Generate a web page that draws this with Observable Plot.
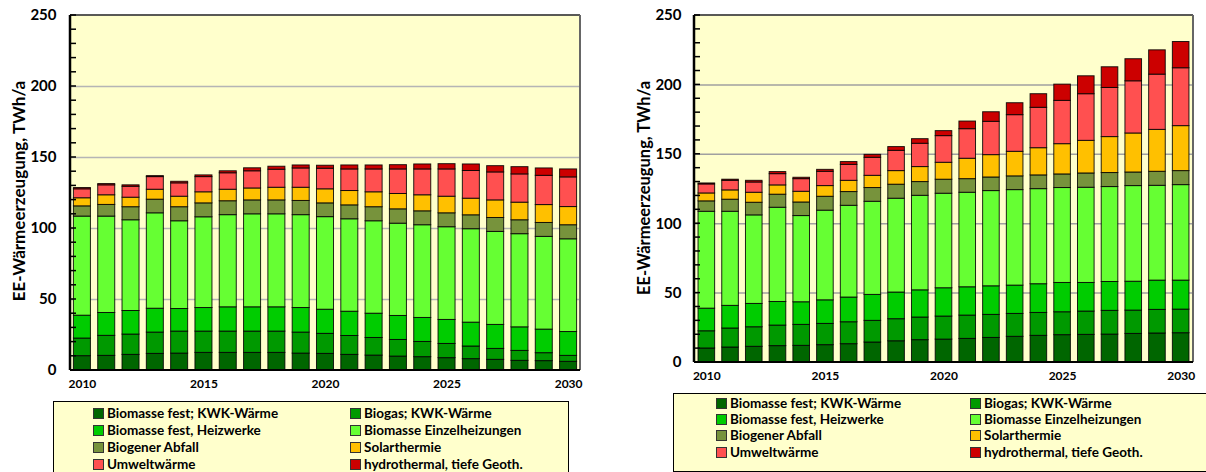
<!DOCTYPE html>
<html><head><meta charset="utf-8">
<script src="https://cdn.jsdelivr.net/npm/d3@7"></script>
<script src="https://cdn.jsdelivr.net/npm/@observablehq/plot@0.6"></script>
<style>
body{margin:0;width:1206px;height:472px;overflow:hidden;background:#fff;font-family:Lato,"Open Sans",sans-serif;}
#wrap{position:relative;width:1206px;height:472px;overflow:hidden;}
.chart{position:absolute;top:0;}
.ylab{position:absolute;font-weight:bold;font-size:17px;white-space:nowrap;transform:translate(-50%,-50%) rotate(-90deg);}
.legend{position:absolute;background:#ffffcc;border:1.5px solid #000;box-sizing:border-box;}
.item{position:absolute;font-weight:bold;font-size:13.5px;line-height:16px;white-space:nowrap;color:#000}
.sw{display:inline-block;width:9px;height:9px;border:1px solid #333;margin-right:3px;vertical-align:-1px}
</style></head><body><div id="wrap"></div>
<script>
const years = [2010,2011,2012,2013,2014,2015,2016,2017,2018,2019,2020,2021,2022,2023,2024,2025,2026,2027,2028,2029,2030];
const yearLabels = [2010,2015,2020,2025,2030];
const yTicks = [0,50,100,150,200,250];
const yMinorTicks = [0,10,20,30,40,50,60,70,80,90,100,110,120,130,140,150,160,170,180,190,200,210,220,230,240,250];
const categories = ["Biomasse fest; KWK-Wärme","Biogas; KWK-Wärme","Biomasse fest, Heizwerke","Biomasse Einzelheizungen","Biogener Abfall","Solarthermie","Umweltwärme","hydrothermal, tiefe Geoth."];
const colors = ["#006600","#009900","#00cc00","#66ff33","#77933c","#ffc000","#ff5050","#cc0000"];
const yTitle = "EE-Wärmeerzeugung, TWh/a";

// Left chart series (TWh/a)
const leftBioKWK   = [10.1,10.3,11.0,11.7,11.9,12.4,12.4,12.4,12.4,11.9,11.7,11.0,10.5,9.8,9.4,8.7,8.0,7.5,6.8,6.6,6.1];
const leftBiogas   = [12.4,14.1,14.3,15.0,15.5,15.0,15.0,15.0,15.0,14.8,14.1,13.3,12.4,11.7,10.7,10.0,8.9,7.7,7.0,5.6,4.2];
const leftHeizw    = [16.1,16.1,16.6,16.8,15.9,16.6,17.1,17.1,17.1,17.3,17.0,17.1,17.1,16.9,16.9,16.9,16.8,16.9,16.6,16.6,16.8];
const leftEinzel   = [69.8,67.9,63.9,67.2,61.8,63.9,64.9,65.5,65.5,65.4,65.2,65.1,65.1,65.0,65.3,65.3,65.8,65.5,65.6,65.3,65.3];
const leftAbfall   = [7.2,8.2,9.2,9.6,9.9,9.8,9.8,9.8,9.8,10.0,9.7,9.8,9.9,10.1,9.8,9.8,9.8,9.8,9.8,9.8,9.9];
const leftSolar    = [5.7,6.8,6.7,7.0,7.4,7.8,8.1,8.4,8.9,9.3,9.9,10.1,10.5,10.8,11.3,11.7,11.7,12.4,12.4,12.6,12.8];
const leftUmwelt   = [6.3,7.0,7.7,8.9,9.4,10.7,11.6,12.1,12.7,13.6,14.5,15.2,16.1,17.3,18.2,19.2,19.5,19.7,19.9,20.6,20.9];
const leftHydro    = [0.9,0.9,1.0,0.7,1.1,1.2,1.4,2.1,2.1,2.1,2.1,2.8,2.8,3.0,3.5,3.7,4.6,4.4,5.1,5.2,5.6];

// Right chart series (TWh/a)
const rightBioKWK  = [10.1,10.8,11.3,11.8,12.0,12.5,13.2,14.4,15.3,16.1,16.5,17.0,17.7,18.5,19.2,19.7,19.9,20.1,20.6,20.9,21.1];
const rightBiogas  = [12.4,13.7,14.1,14.8,15.1,15.3,15.8,15.6,15.9,16.3,16.6,16.8,16.6,16.5,16.5,16.5,16.8,17.1,16.8,17.0,17.0];
const rightHeizw   = [16.3,16.3,16.8,17.0,16.3,17.0,17.8,18.7,19.2,19.6,20.4,20.4,20.6,20.4,20.7,21.1,20.6,20.8,20.8,21.1,20.9];
const rightEinzel  = [69.8,67.8,63.8,67.9,62.1,64.6,66.1,67.1,67.6,68.1,68.1,68.1,68.6,68.8,68.5,68.4,68.6,68.4,68.9,68.3,68.8];
const rightAbfall  = [7.5,8.7,9.1,9.4,9.8,10.0,9.9,9.9,10.1,9.9,10.1,9.8,9.8,9.9,9.9,9.8,10.3,10.1,9.8,10.1,10.1];
const rightSolar   = [5.7,6.7,7.2,6.7,7.7,7.7,8.1,8.8,9.8,10.8,12.2,14.7,16.1,17.7,19.6,21.8,23.5,25.9,28.1,30.2,32.4];
const rightUmwelt  = [6.5,6.9,7.4,8.1,9.1,10.3,11.5,13.0,14.6,16.8,19.2,21.3,24.0,26.4,29.1,31.2,33.6,35.4,37.6,39.8,41.7];
const rightHydro   = [0.7,0.8,1.2,1.5,1.0,1.4,2.0,2.1,2.7,3.3,3.6,5.5,6.9,8.6,9.8,11.7,12.9,14.9,15.9,17.5,18.9];

const leftSeries  = [leftBioKWK,leftBiogas,leftHeizw,leftEinzel,leftAbfall,leftSolar,leftUmwelt,leftHydro];
const rightSeries = [rightBioKWK,rightBiogas,rightHeizw,rightEinzel,rightAbfall,rightSolar,rightUmwelt,rightHydro];

function tidy(series){
  const rows = [];
  categories.forEach((c,i)=>years.forEach((y,j)=>rows.push({year:y, cat:c, value:series[i][j]})));
  return rows;
}

function lines(index, scales, values, dims){
  const g = d3.create("svg:g");
  const x0 = dims.marginLeft, x1 = dims.width - dims.marginRight;
  const y0 = dims.marginTop, y1 = dims.height - dims.marginBottom;
  g.append("line").attr("x1",x0).attr("x2",x1).attr("y1",y0).attr("y2",y0).attr("stroke","#222").attr("stroke-width",1.5);
  g.append("line").attr("x1",x1).attr("x2",x1).attr("y1",y0).attr("y2",y1).attr("stroke","#666").attr("stroke-width",2);
  g.append("line").attr("x1",x0).attr("x2",x0).attr("y1",y0).attr("y2",y1).attr("stroke","#000").attr("stroke-width",2.5);
  g.append("line").attr("x1",x0).attr("x2",x1).attr("y1",y1).attr("y2",y1).attr("stroke","#000").attr("stroke-width",2);
  for (const t of yMinorTicks) {
    const yy = scales.y(t);
    g.append("line").attr("x1",x0).attr("x2",x0+6).attr("y1",yy).attr("y2",yy).attr("stroke","#000").attr("stroke-width",1.5);
  }
  return g.node();
}

function makeChart(series, o){
  return Plot.plot({
    width:o.width, height:o.height,
    marginLeft:o.ml, marginRight:o.mr, marginTop:o.mt, marginBottom:o.mb,
    style:{background:"transparent", fontFamily:"Lato, 'Open Sans', sans-serif", color:"#000"},
    x:{type:"band", domain:years, paddingInner:0.3, paddingOuter:o.po, round:false, label:null},
    y:{domain:[0,250], label:null},
    color:{domain:categories, range:colors},
    marks:[
      Plot.frame({fill:"#ffffcc", stroke:null}),
      Plot.gridY([50,100,150,200], {stroke:o.grid, strokeOpacity:1, strokeWidth:1.5}),
      Plot.barY(tidy(series), {x:"year", y:"value", fill:"cat", stroke:"#000", strokeWidth:1, strokeOpacity:0.85}),
      Plot.axisY(yTicks, {tickSize:0, tickPadding:o.tp, fontWeight:"bold", fontSize:15, label:null}),
      Plot.axisX(yearLabels, {tickSize:0, tickPadding:o.xp, fontWeight:"bold", fontSize:12, label:null, tickFormat:d=>String(d)}),
      lines
    ]
  });
}

function legend(box, colX, rowY){
  const d = document.createElement("div");
  d.className = "legend";
  Object.assign(d.style, {left:box[0]+"px", top:box[1]+"px", width:box[2]+"px", height:box[3]+"px"});
  categories.forEach((c,i)=>{
    const it = document.createElement("div");
    it.className = "item";
    it.style.left = colX[i%2] + "px";
    it.style.top = rowY[Math.floor(i/2)] + "px";
    const sw = document.createElement("span");
    sw.className = "sw"; sw.style.background = colors[i];
    it.appendChild(sw);
    it.appendChild(document.createTextNode(c));
    d.appendChild(it);
  });
  return d;
}

const wrap = document.getElementById("wrap");
const left = makeChart(leftSeries, {width:600, height:392, ml:70, mr:20, mt:15, mb:22, grid:"#b5b5b5", tp:14, xp:9, po:0.14});
left.classList.add("chart"); left.style.left = "0px";
wrap.appendChild(left);
const right = makeChart(rightSeries, {width:606, height:382, ml:94, mr:13, mt:15, mb:20, grid:"#a0a0a0", tp:13, xp:9, po:0.17});
right.classList.add("chart"); right.style.left = "600px";
wrap.appendChild(right);

const yl1 = document.createElement("div"); yl1.className="ylab"; yl1.textContent=yTitle;
Object.assign(yl1.style,{left:"18px", top:"191px"}); wrap.appendChild(yl1);
const yl2 = document.createElement("div"); yl2.className="ylab"; yl2.textContent=yTitle;
Object.assign(yl2.style,{left:"644px", top:"188px", fontSize:"16.5px"}); wrap.appendChild(yl2);

wrap.appendChild(legend([53,401,516,82],[39,296],[3,20,37,54]));
wrap.appendChild(legend([673,393,560,79],[42,296],[1,17,33,50]));
</script></body></html>
